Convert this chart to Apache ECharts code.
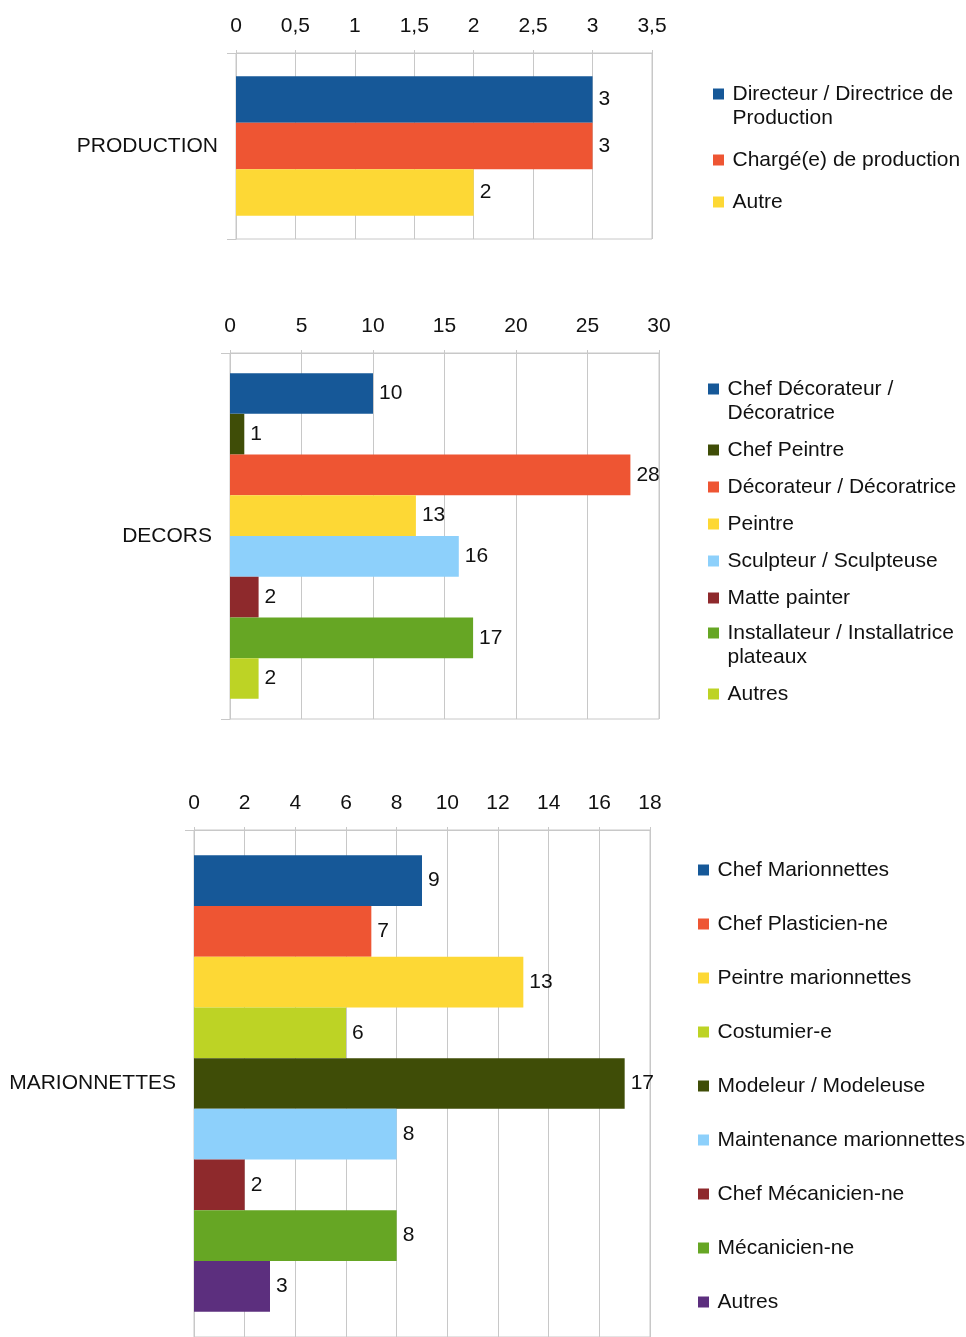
<!DOCTYPE html>
<html>
<head>
<meta charset="utf-8">
<script src="https://cdn.jsdelivr.net/npm/echarts@6/dist/echarts.min.js"></script>
<style>
  html, body { margin: 0; padding: 0; background: #fff; }
  #chart { width: 966px; height: 1337px; }
</style>
</head>
<body>
<div id="chart"></div>
<script>
// données
var groupNames = ['PRODUCTION', 'DECORS', 'MARIONNETTES'];

var prodRoles = ['Directeur / Directrice de\nProduction', 'Chargé(e) de production', 'Autre'];
var prodValues = [3, 3, 2];

var decorRoles = ['Chef Décorateur /\nDécoratrice', 'Chef Peintre', 'Décorateur / Décoratrice', 'Peintre',
  'Sculpteur / Sculpteuse', 'Matte painter', 'Installateur / Installatrice\nplateaux', 'Autres'];
var decorValues = [10, 1, 28, 13, 16, 2, 17, 2];

var marioRoles = ['Chef Marionnettes', 'Chef Plasticien-ne', 'Peintre marionnettes', 'Costumier-e',
  'Modeleur / Modeleuse', 'Maintenance marionnettes', 'Chef Mécanicien-ne', 'Mécanicien-ne', 'Autres'];
var marioValues = [9, 7, 13, 6, 17, 8, 2, 8, 3];

// axes: max, pas
var axisMax = [3.5, 30, 18];
var axisStep = [0.5, 5, 2];

// couleurs
var BLUE = '#165898', ORANGE = '#ee5533', YELLOW = '#fdd835', LIME = '#bdd325',
    DKGREEN = '#3f4d07', LTBLUE = '#8dd0fb', MAROON = '#8e292c', GREEN = '#66a624', PURPLE = '#5c2f7e';
var prodColors = [BLUE, ORANGE, YELLOW];
var decorColors = [BLUE, DKGREEN, ORANGE, YELLOW, LTBLUE, MAROON, GREEN, LIME];
var marioColors = [BLUE, ORANGE, YELLOW, LIME, DKGREEN, LTBLUE, MAROON, GREEN, PURPLE];

var FONT = '"Liberation Sans", Arial, sans-serif';
var FS = 21;
var GRIDC = '#c8c8c8';

var chart = echarts.init(document.getElementById('chart'));

var layouts = [
  { left: 236, right: 314, top: 53, height: 186, gap: '25%', legLeft: 713, legGap: 18,
    legParts: [[0, 3, 58]] },
  { left: 230, right: 307, top: 353, height: 366, gap: '11%', legLeft: 708, legGap: 13,
    legParts: [[0, 6, 353], [6, 8, 597]] },
  { left: 194, right: 316, top: 830, height: 512, gap: '10%', legLeft: 698, legGap: 30,
    legParts: [[0, 9, 858]] }
];

var blocks = [
  { roles: prodRoles, values: prodValues, colors: prodColors },
  { roles: decorRoles, values: decorValues, colors: decorColors },
  { roles: marioRoles, values: marioValues, colors: marioColors }
];

var grid = [], xAxis = [], yAxis = [], series = [], legend = [];

blocks.forEach(function (b, i) {
  var L = layouts[i];
  grid.push({
    left: L.left, right: L.right, top: L.top, height: L.height,
    show: true, borderColor: GRIDC, borderWidth: 1
  });
  xAxis.push({
    type: 'value', gridIndex: i, position: 'top',
    min: 0, max: axisMax[i], interval: axisStep[i],
    axisLine: { show: true, lineStyle: { color: GRIDC } },
    axisTick: { show: true, length: 3, lineStyle: { color: GRIDC } },
    splitLine: { show: true, lineStyle: { color: GRIDC } },
    axisLabel: {
      margin: 16, color: '#111', fontSize: FS, fontFamily: FONT,
      formatter: function (v) { return String(v).replace('.', ','); }
    }
  });
  yAxis.push({
    type: 'category', gridIndex: i, inverse: true,
    data: [groupNames[i]],
    axisLine: { show: true, lineStyle: { color: GRIDC } },
    axisTick: { show: true, length: 9, lineStyle: { color: GRIDC } },
    axisLabel: { margin: 18, color: '#111', fontSize: FS, fontFamily: FONT }
  });
  b.roles.forEach(function (r, k) {
    series.push({
      type: 'bar', name: r, xAxisIndex: i, yAxisIndex: i,
      barGap: 0, barCategoryGap: L.gap,
      itemStyle: { color: b.colors[k] },
      label: {
        show: true, position: 'right', distance: 6,
        color: '#111', fontSize: FS, fontFamily: FONT
      },
      data: [b.values[k]]
    });
  });
  // légende (découpée pour caler les entrées sur deux lignes)
  L.legParts.forEach(function (p) {
    legend.push({
      orient: 'vertical', left: L.legLeft, top: p[2], padding: 0,
      itemGap: L.legGap, itemWidth: 18, itemHeight: 11,
      icon: 'path://M0,0h10v10h-10z',
      selectedMode: false,
      textStyle: { color: '#111', fontSize: FS, fontFamily: FONT, lineHeight: 24 },
      formatter: function (name) {
        // ligne vide au-dessus: la première ligne reste alignée sur le carré
        return name.indexOf('\n') >= 0 ? ' \n' + name : name;
      },
      data: b.roles.slice(p[0], p[1]).map(function (r, k) {
        return { name: r, itemStyle: { color: b.colors[p[0] + k] } };
      })
    });
  });
});

chart.setOption({
  backgroundColor: '#fff',
  animation: false,
  grid: grid,
  xAxis: xAxis,
  yAxis: yAxis,
  legend: legend,
  series: series
});
</script>
</body>
</html>
